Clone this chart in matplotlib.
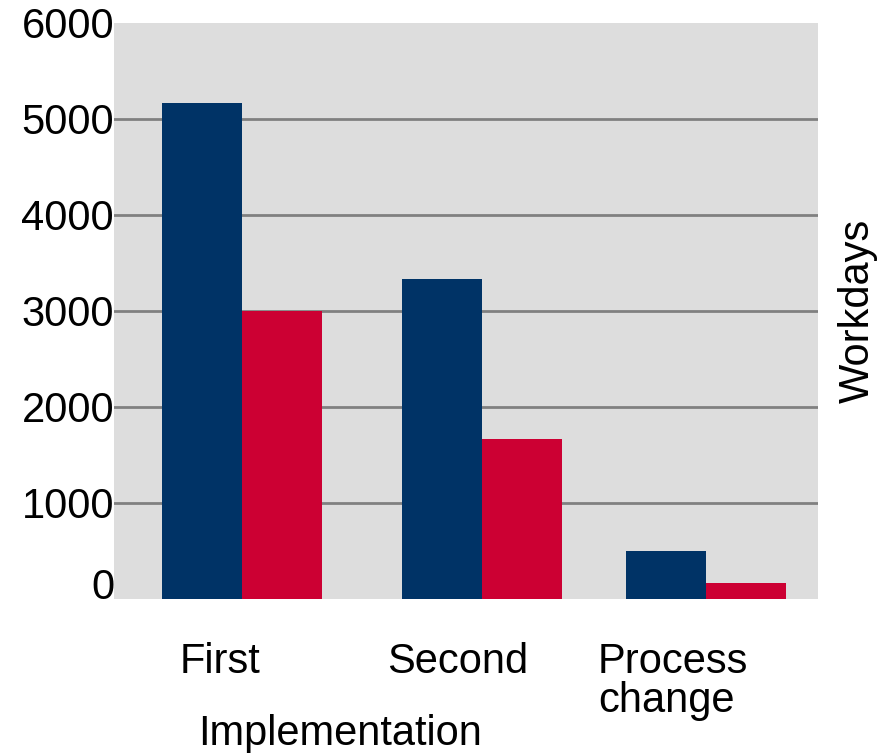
import matplotlib.pyplot as plt
import numpy as np

plt.rcParams['font.family'] = ['Liberation Sans', 'DejaVu Sans']

categories = ['First', 'Second', 'Process\nchange']
before = [5167, 3333, 500]
after = [3000, 1667, 167]
yticks = [0, 1000, 2000, 3000, 4000, 5000, 6000]

blue = '#003366'
red = '#cc0033'

W, H = 894, 753
fig = plt.figure(figsize=(W / 100, H / 100), dpi=100)
ax = fig.add_axes([114 / W, 154 / H, 704 / W, 576 / H])
ax.set_facecolor('#dddddd')

# group centres (in bar-width units), spacing is slightly uneven
centers = np.array([1.6, 4.6, 7.4])
width = 1.0
ax.bar(centers - width / 2, before, width, color=blue, zorder=3)
ax.bar(centers + width / 2, after, width, color=red, zorder=3)

ax.set_xlim(0, 8.8)
ax.set_ylim(0, 6000)
ax.set_yticks(yticks)
ax.set_yticklabels([str(t) for t in yticks], fontsize=30)
for t in yticks[1:-1]:
    ax.axhline(t, color='#808080', linewidth=2, zorder=1)

# "0" sits on top of the baseline, the rest straddle their line
for t, lbl in zip(yticks, ax.get_yticklabels()):
    lbl.set_verticalalignment('baseline' if t == 0 else 'center_baseline')

ax.set_xticks([1.325, 4.3, 6.05])
ax.set_xticklabels(categories, fontsize=30)
for lbl in ax.get_xticklabels():
    lbl.set_multialignment('left')
    lbl.set_linespacing(0.95)
ax.get_xticklabels()[2].set_horizontalalignment('left')

ax.tick_params(axis='both', length=0)
ax.tick_params(axis='y', pad=0)
ax.tick_params(axis='x', pad=31)
for s in ax.spines.values():
    s.set_visible(False)

fig.text(340 / W, (H - 745) / H, 'Implementation', fontsize=30,
         ha='center', va='baseline')
ax.yaxis.set_label_position('right')
ax.set_ylabel('Workdays', fontsize=30, labelpad=14)

fig.savefig('out.png', dpi=100)
